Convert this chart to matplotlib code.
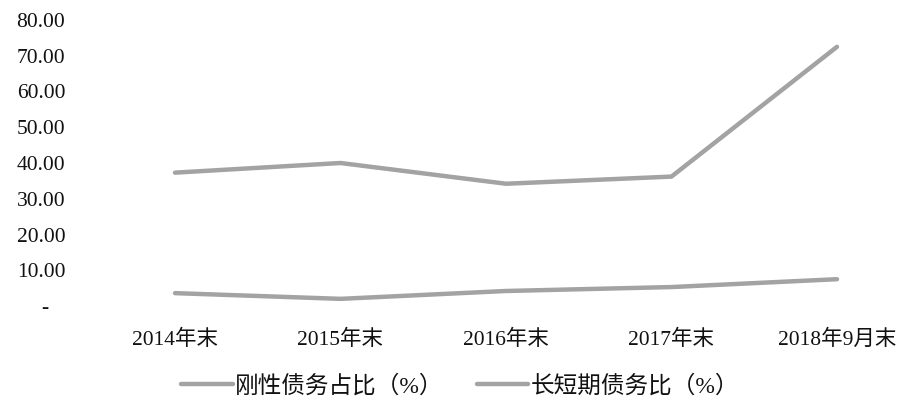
import matplotlib
matplotlib.use("Agg")
import matplotlib.pyplot as plt
from matplotlib.ticker import FixedLocator

plt.rcParams['font.family'] = ['Liberation Serif', 'Noto Sans CJK SC', 'DejaVu Sans']

categories = ["2014年末", "2015年末", "2016年末", "2017年末", "2018年9月末"]
rigid_debt_ratio = [37.3, 40.0, 34.2, 36.2, 72.5]
long_short_ratio = [3.6, 2.0, 4.2, 5.3, 7.5]
series_names = ["刚性债务占比（%）", "长短期债务比（%）"]
y_ticks = [0, 10, 20, 30, 40, 50, 60, 70, 80]
y_tick_labels = ["-   ", "10.00", "20.00", "30.00", "40.00", "50.00", "60.00", "70.00", "80.00"]

fig = plt.figure(figsize=(9.05, 4.0), dpi=100)
ax = fig.add_axes([100/905, 94/400, 800/905, 286/400])

x = list(range(len(categories)))
line_color = "#a3a3a3"
ax.plot(x, rigid_debt_ratio, color=line_color, lw=3.2, solid_capstyle='round', label=series_names[0])
ax.plot(x, long_short_ratio, color=line_color, lw=3.2, solid_capstyle='round', label=series_names[1])

ax.set_xlim(-75/165.5, 4 + 63/165.5)
ax.set_ylim(0, 80)
ax.yaxis.set_major_locator(FixedLocator(y_ticks))
ax.set_yticklabels(y_tick_labels)
ax.set_xticks(x)
ax.set_xticklabels(categories)

for s in ax.spines.values():
    s.set_visible(False)
ax.tick_params(axis='y', length=0, pad=25, labelsize=15.5, labelcolor="#111111")
ax.tick_params(axis='x', length=0, pad=17, labelsize=15.5, labelcolor="#111111")

leg = fig.legend(loc='center', bbox_to_anchor=(460/905, 1 - 386/400), ncol=2, frameon=False,
                 fontsize=17, handlelength=2.2, handletextpad=0.1, columnspacing=1.4,
                 borderpad=0.0)
for t in leg.get_texts():
    t.set_color("#111111")

fig.savefig("out.png", dpi=100, facecolor="white")
